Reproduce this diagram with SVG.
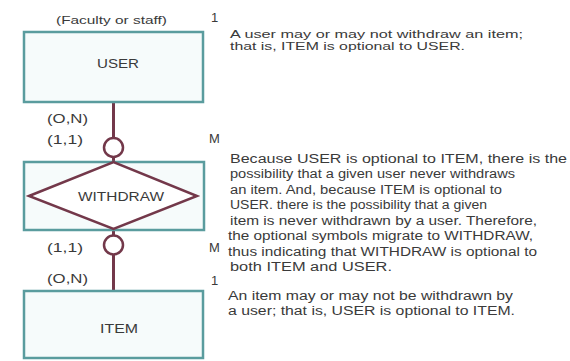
<svg xmlns="http://www.w3.org/2000/svg" width="570" height="361" viewBox="0 0 570 361">
<style>
.box{fill:#f6fbfb;stroke:#5a9c9e;stroke-width:2.5}
.rel{fill:#ffffff;stroke:#73384a;stroke-width:2.5;stroke-linejoin:miter}
.ln{stroke:#73384a;stroke-width:3;fill:none}
.opt{fill:#ffffff;stroke:#73384a;stroke-width:2.5}
text{font-family:"Liberation Sans",Arial,sans-serif;fill:#3a3a3a}
.lbl{font-size:13px}
.nm{font-size:13px;text-anchor:middle}
.tx{font-size:12.5px}
.ts{font-size:11.5px}
</style>
<rect width="570" height="361" fill="#ffffff"/>
<g id="connectors">
<line class="ln" x1="113.5" y1="102" x2="113.5" y2="162"/>
<line class="ln" x1="113.5" y1="230" x2="113.5" y2="291"/>
<circle class="opt" cx="113.5" cy="147.5" r="9.5"/>
<circle class="opt" cx="113.5" cy="245" r="9.5"/>
</g>
<g id="user">
<rect class="box" x="24" y="32" width="179" height="70"/>
<text class="nm" x="118" y="68" textLength="42" lengthAdjust="spacingAndGlyphs">USER</text>
</g>
<g id="withdraw">
<rect class="box" x="24" y="162" width="180" height="68"/>
<polygon class="rel" points="29,196 113.5,162 197,196 113.5,229"/>
<text class="nm" x="121" y="200.5" textLength="86" lengthAdjust="spacingAndGlyphs">WITHDRAW</text>
</g>
<g id="item">
<rect class="box" x="24" y="291" width="179" height="67"/>
<text class="nm" x="119" y="333" textLength="38" lengthAdjust="spacingAndGlyphs">ITEM</text>
</g>
<g id="labels">
<text class="ts" x="56" y="23.5" textLength="111" lengthAdjust="spacingAndGlyphs">(Faculty or staff)</text>
<text class="lbl" x="211" y="22">1</text>
<text class="lbl" x="47" y="122.5" textLength="41" lengthAdjust="spacingAndGlyphs">(O,N)</text>
<text class="lbl" x="47" y="144" textLength="36" lengthAdjust="spacingAndGlyphs">(1,1)</text>
<text class="lbl" x="209" y="143">M</text>
<text class="lbl" x="47" y="252" textLength="36" lengthAdjust="spacingAndGlyphs">(1,1)</text>
<text class="lbl" x="209" y="252">M</text>
<text class="lbl" x="47" y="283" textLength="41" lengthAdjust="spacingAndGlyphs">(O,N)</text>
<text class="lbl" x="211" y="285">1</text>
</g>
<g id="notes">
<text class="ts" x="230" y="37.5" textLength="293" lengthAdjust="spacingAndGlyphs">A user may or may not withdraw an item;</text>
<text class="ts" x="230" y="50" textLength="235" lengthAdjust="spacingAndGlyphs">that is, ITEM is optional to USER.</text>
<text class="tx" x="230" y="163" textLength="337" lengthAdjust="spacingAndGlyphs">Because USER is optional to ITEM, there is the</text>
<text class="tx" x="230" y="178" textLength="285" lengthAdjust="spacingAndGlyphs">possibility that a given user never withdraws</text>
<text class="tx" x="230" y="193.5" textLength="272" lengthAdjust="spacingAndGlyphs">an item.  And, because ITEM is optional to</text>
<text class="tx" x="230" y="209" textLength="257" lengthAdjust="spacingAndGlyphs">USER. there is the possibility that a given</text>
<text class="tx" x="230" y="224.5" textLength="307" lengthAdjust="spacingAndGlyphs">item is never withdrawn by a user.  Therefore,</text>
<text class="tx" x="228" y="240" textLength="305" lengthAdjust="spacingAndGlyphs">the optional symbols migrate to WITHDRAW,</text>
<text class="tx" x="228" y="255.5" textLength="309" lengthAdjust="spacingAndGlyphs">thus indicating that WITHDRAW is optional to</text>
<text class="tx" x="230" y="271" textLength="162" lengthAdjust="spacingAndGlyphs">both ITEM and USER.</text>
<text class="tx" x="228" y="300" textLength="285" lengthAdjust="spacingAndGlyphs">An item may or may not be withdrawn by</text>
<text class="tx" x="228" y="314.5" textLength="287" lengthAdjust="spacingAndGlyphs">a user; that is, USER is optional to ITEM.</text>
</g>
</svg>
